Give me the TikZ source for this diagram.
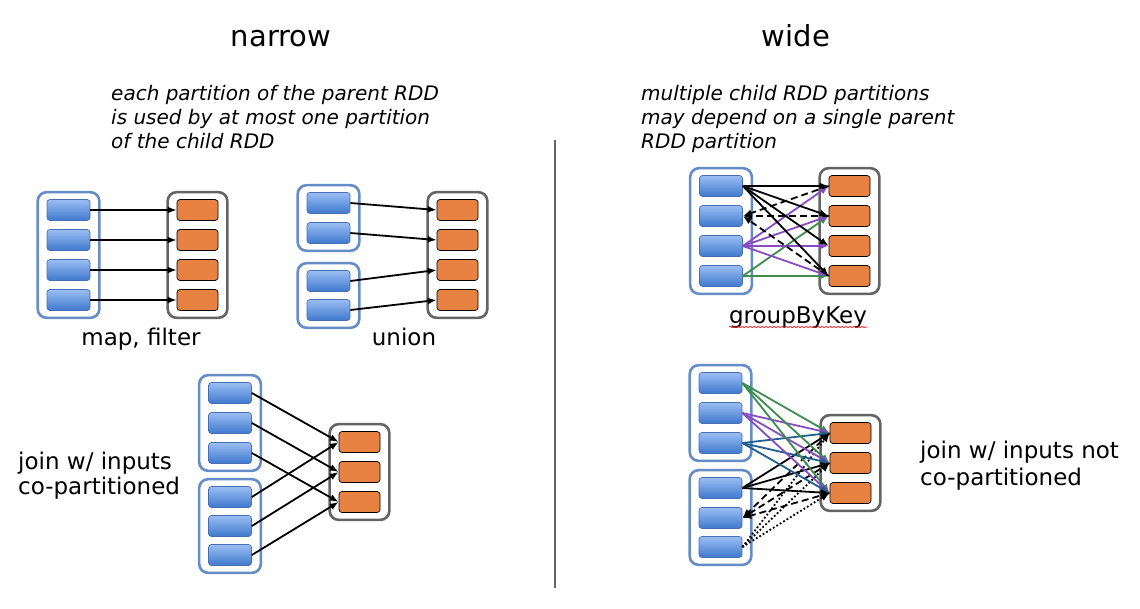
\documentclass[tikz,border=0pt]{standalone}
\usepackage{fontspec}
\setmainfont{DejaVu Sans}
\usetikzlibrary{arrows.meta, calc, fit, backgrounds, decorations.pathmorphing}
\definecolor{partblue}{RGB}{62,120,205}
\definecolor{partlight}{RGB}{155,190,243}
\definecolor{partedge}{RGB}{70,110,180}
\definecolor{grpblue}{RGB}{100,140,200}
\definecolor{grpgray}{RGB}{100,100,100}
\definecolor{childorange}{RGB}{232,130,66}
\definecolor{depgreen}{RGB}{60,140,80}
\definecolor{deppurple}{RGB}{135,75,195}
\definecolor{depteal}{RGB}{30,95,140}

\begin{document}
\begin{tikzpicture}[x=1pt, y=-1pt,
		part/.style={draw=partedge, line width=0.7pt, rounded corners=3pt, top color=partlight, bottom color=partblue, minimum width=43pt, minimum height=21pt, inner sep=0},
		child/.style={draw=black, line width=0.7pt, rounded corners=3pt, fill=childorange, minimum width=41pt, minimum height=21pt, inner sep=0},
		pgrp/.style={draw=grpblue, line width=2.6pt, rounded corners=9pt, inner xsep=9pt, inner ysep=7pt},
		cgrp/.style={draw=grpgray, line width=2.6pt, rounded corners=9pt, inner xsep=9pt, inner ysep=7pt},
		arr/.style={-{Latex[length=9pt, width=7pt]}, line width=1.8pt},
		dashdep/.style={dash pattern=on 7pt off 4pt},
		dotdep/.style={dash pattern=on 1.8pt off 2.2pt},
		title/.style={font=\fontsize{29}{35}\selectfont, anchor=base, inner sep=0},
		note/.style={font=\fontsize{20}{24}\selectfont\itshape, align=left, anchor=north west, inner sep=0},
		lbl/.style={font=\fontsize{23}{27}\selectfont, inner sep=0}
	]
		\useasboundingbox (0,0) rectangle (1140,608);

		\node[title] (narrow) at (281,46) {narrow};
		\node[title] (wide) at (796,46) {wide};
		\node[note] (narrownote) at (111,85) {each partition of the parent RDD\\is used by at most one partition\\of the child RDD};
		\node[note] (widenote) at (641,85) {multiple child RDD partitions\\may depend on a single parent\\RDD partition};
		\draw[grpgray, line width=1.8pt] (555,140) -- (555,588);

		% map, filter
		\node[part] (m1) at (68.5,210) {};
		\node[part] (m2) at (68.5,240) {};
		\node[part] (m3) at (68.5,270) {};
		\node[part] (m4) at (68.5,300) {};
		\node[child] (n1) at (197.5,210) {};
		\node[child] (n2) at (197.5,240) {};
		\node[child] (n3) at (197.5,270) {};
		\node[child] (n4) at (197.5,300) {};
		\draw[arr] (m1.east) -- (n1.west);
		\draw[arr] (m2.east) -- (n2.west);
		\draw[arr] (m3.east) -- (n3.west);
		\draw[arr] (m4.east) -- (n4.west);
		\node[lbl, anchor=base] (maplbl) at (141,345) {map, filter};

		% union
		\node[part] (u1) at (328.5,203) {};
		\node[part] (u2) at (328.5,233) {};
		\node[part] (u3) at (328.5,281) {};
		\node[part] (u4) at (328.5,310) {};
		\node[child] (v1) at (457.5,210) {};
		\node[child] (v2) at (457.5,240) {};
		\node[child] (v3) at (457.5,270) {};
		\node[child] (v4) at (457.5,300) {};
		\draw[arr] (u1.east) -- (v1.west);
		\draw[arr] (u2.east) -- (v2.west);
		\draw[arr] (u3.east) -- (v3.west);
		\draw[arr] (u4.east) -- (v4.west);
		\node[lbl, anchor=base] (unionlbl) at (404,345) {union};

		% join, co-partitioned
		\node[part] (a1) at (230,393) {};
		\node[part] (a2) at (230,423) {};
		\node[part] (a3) at (230,453) {};
		\node[part] (a4) at (230,497) {};
		\node[part] (a5) at (230,526) {};
		\node[part] (a6) at (230,555) {};
		\node[child] (b1) at (359.5,442) {};
		\node[child] (b2) at (359.5,472) {};
		\node[child] (b3) at (359.5,502) {};
		\draw[arr] (a1.east) -- (b1.west);
		\draw[arr] (a2.east) -- (b2.west);
		\draw[arr] (a3.east) -- (b3.west);
		\draw[arr] (a4.east) -- (b1.west);
		\draw[arr] (a5.east) -- (b2.west);
		\draw[arr] (a6.east) -- (b3.west);
		\node[lbl, align=left, anchor=west, font=\fontsize{23}{25}\selectfont] (cojoinlbl) at (18,476) {join w/ inputs\\co-partitioned};

		% groupByKey
		\node[part] (k1) at (721,186) {};
		\node[part] (k2) at (721,216) {};
		\node[part] (k3) at (721,246) {};
		\node[part] (k4) at (721,276) {};
		\node[child] (q1) at (849.5,186) {};
		\node[child] (q2) at (849.5,216) {};
		\node[child] (q3) at (849.5,246) {};
		\node[child] (q4) at (849.5,276) {};
		\foreach \c in {2,4}
			\draw[arr, depgreen] (k4.east) -- (q\c.west);
		\foreach \c in {1,...,4}
			\draw[arr, deppurple] (k3.east) -- (q\c.west);
		\foreach \c in {1,2,4}
			\draw[arr, dashdep] (q\c.west) -- (k2.east);
		\foreach \c in {1,...,4}
			\draw[arr] (k1.east) -- (q\c.west);
		\node[lbl, anchor=base] (gbk) at (798,323) {groupByKey};
		\draw[red, line width=0.6pt, decorate, decoration={snake, amplitude=0.8pt, segment length=4pt}]
			($(gbk.base west)+(0,4)$) -- ($(gbk.base east)+(0,4)$);

		% join, not co-partitioned
		\node[part] (j1) at (720.5,383) {};
		\node[part] (j2) at (720.5,413) {};
		\node[part] (j3) at (720.5,443) {};
		\node[part] (j4) at (720.5,488) {};
		\node[part] (j5) at (720.5,518) {};
		\node[part] (j6) at (720.5,547) {};
		\node[child] (r1) at (850.5,433) {};
		\node[child] (r2) at (850.5,463) {};
		\node[child] (r3) at (850.5,493) {};
		\foreach \c in {1,2,3} {
			\draw[arr, depgreen] (j1.east) -- (r\c.west);
			\draw[arr, deppurple] (j2.east) -- (r\c.west);
			\draw[arr, depteal] (j3.east) -- (r\c.west);
			\draw[arr, dotdep] (j6.east) -- (r\c.west);
			\draw[arr, dashdep] (r\c.west) -- (j5.east);
			\draw[arr] (j4.east) -- (r\c.west);
		}
		\node[lbl, align=left, anchor=west] (nojoinlbl) at (920,466) {join w/ inputs not\\co-partitioned};

		% group outlines
		\begin{scope}[on background layer]
			\node[pgrp, fit=(m1)(m4)] (mIn) {};
			\node[cgrp, fit=(n1)(n4)] (mOut) {};
			\node[pgrp, fit=(u1)(u2)] (uInA) {};
			\node[pgrp, fit=(u3)(u4)] (uInB) {};
			\node[cgrp, fit=(v1)(v4)] (uOut) {};
			\node[pgrp, fit=(a1)(a3)] (aInA) {};
			\node[pgrp, fit=(a4)(a6)] (aInB) {};
			\node[cgrp, fit=(b1)(b3)] (bOut) {};
			\node[pgrp, fit=(k1)(k4)] (kIn) {};
			\node[cgrp, fit=(q1)(q4)] (qOut) {};
			\node[pgrp, fit=(j1)(j3)] (jInA) {};
			\node[pgrp, fit=(j4)(j6)] (jInB) {};
			\node[cgrp, fit=(r1)(r3)] (rOut) {};
		\end{scope}
	\end{tikzpicture}
\end{document}
